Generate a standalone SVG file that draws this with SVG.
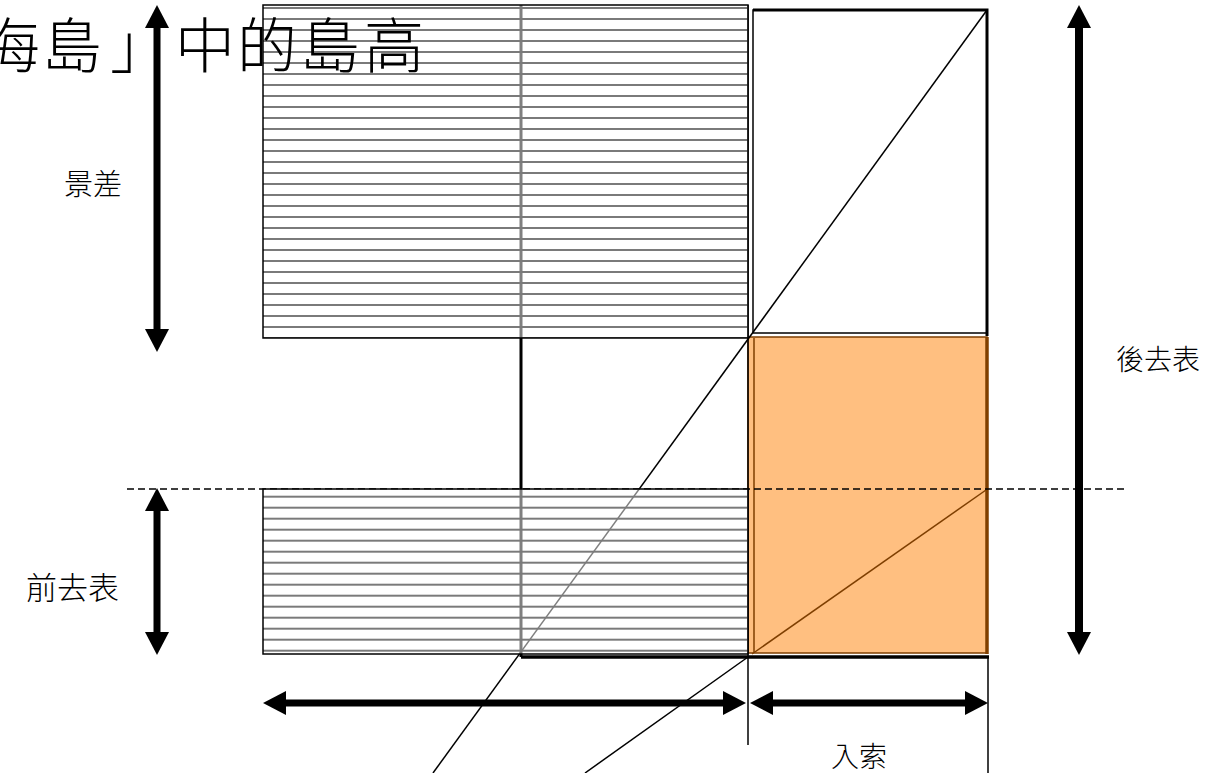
<svg xmlns="http://www.w3.org/2000/svg" width="1230" height="773" viewBox="0 0 1230 773">
<style>
.ln{stroke:#000;stroke-width:1.5;fill:none}
.hat{stroke:#000;stroke-width:1.5}
.arr{stroke:#000;stroke-width:7;fill:none;marker-start:url(#ah);marker-end:url(#ah)}
.lbl{font-family:"Liberation Serif","Noto Sans CJK TC",serif;font-size:28px;font-weight:300;fill:#000}
.ttl{font-family:"Liberation Serif","Noto Sans CJK TC",serif;font-size:60px;font-weight:300;fill:#000}
</style>
<defs>
<marker id="ah" markerUnits="userSpaceOnUse" markerWidth="24" markerHeight="26" viewBox="0 -13 24 26" refX="15" refY="0" orient="auto-start-reverse">
<path d="M0,-12 L23,0 L0,12 z" fill="#000"/>
</marker>
<pattern id="hatA" patternUnits="userSpaceOnUse" x="0" y="0" width="20" height="11">
<rect width="20" height="11" fill="#fff" fill-opacity="0.5"/>
<line x1="0" y1="8" x2="20" y2="8" stroke="#7a7a7a" stroke-width="2"/>
</pattern>
<pattern id="hatB" patternUnits="userSpaceOnUse" x="0" y="0" width="20" height="11">
<rect width="20" height="11" fill="#fff" fill-opacity="0.5"/>
<line x1="0" y1="1.7" x2="20" y2="1.7" stroke="#7a7a7a" stroke-width="2"/>
</pattern>
</defs>

<g id="orange-rect">
<rect x="748" y="337" width="239" height="316" fill="#FFBF80" stroke="#7F3F00" stroke-width="1.5"/>
<line x1="754" y1="338" x2="754" y2="653" stroke="#7F3F00" stroke-width="1.5"/>
<line x1="987" y1="337" x2="987" y2="654" stroke="#7F3F00" stroke-width="3.5"/>
</g>

<g id="top-right-square">
<rect x="753" y="10" width="234" height="323" class="ln"/>
<polyline points="753,10 987,10 987,336" fill="none" stroke="#000" stroke-width="3"/>
</g>

<g id="connectors">
<line x1="521" y1="5" x2="521" y2="657" stroke="#000" stroke-width="3"/>
<line x1="521" y1="657" x2="989" y2="657" stroke="#000" stroke-width="3.5"/>
<line x1="748" y1="5" x2="748" y2="745" class="ln"/>
<line x1="988" y1="657" x2="988" y2="773" class="ln"/>
<line x1="987" y1="10" x2="433" y2="773" class="ln"/>
<line x1="748" y1="657" x2="585" y2="773" class="ln"/>
<line x1="986" y1="490" x2="752" y2="654" stroke="#7F3F00" stroke-width="1.5"/>
<line x1="127" y1="489" x2="1128" y2="489" stroke="#000" stroke-width="1.5" stroke-dasharray="7 4"/>
</g>

<g id="hatched-top">
<rect x="263" y="5" width="485" height="333" fill="url(#hatA)" class="hat"/>
</g>
<g id="hatched-bottom">
<rect x="263" y="489" width="485" height="165" fill="url(#hatB)" class="hat"/>
</g>

<g id="arrows">
<line x1="157" y1="13" x2="157" y2="344" class="arr"/>
<line x1="157" y1="496" x2="157" y2="647" class="arr"/>
<line x1="1079" y1="13" x2="1079" y2="647" class="arr" style="stroke-width:8"/>
<line x1="271" y1="703" x2="738" y2="703" class="arr"/>
<line x1="758" y1="703" x2="980" y2="703" class="arr"/>
</g>

<g id="title">
<text class="ttl" x="-20 42 110 175 237 300 364" y="68">海島」中的島高</text>
</g>
<g id="label-jingcha"><text class="lbl" x="64" y="195" style="font-size:29px">景差</text></g>
<g id="label-qianqubiao"><text class="lbl" x="26" y="599" style="font-size:31px">前去表</text></g>
<g id="label-houqubiao"><text class="lbl" x="1116" y="370">後去表</text></g>
<g id="label-rusuo"><text class="lbl" x="831" y="767">入索</text></g>
</svg>
